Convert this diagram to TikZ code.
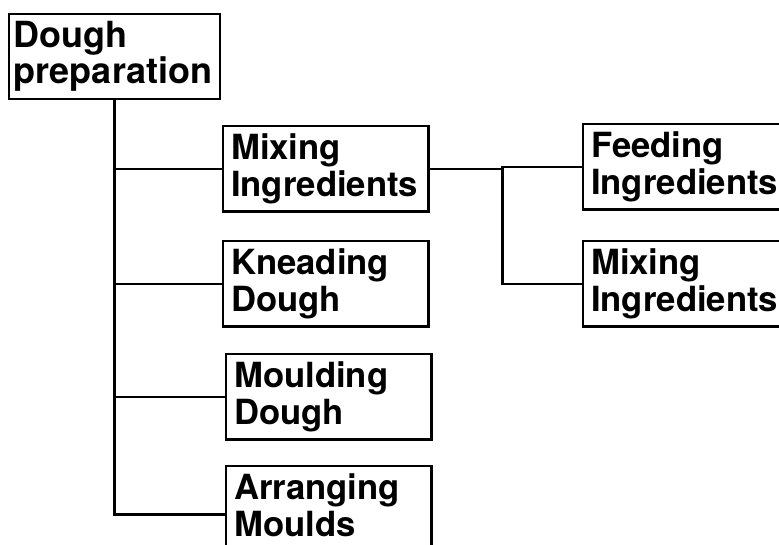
\documentclass[tikz,border=0pt]{standalone}
\usepackage{fontspec}
\setmainfont{TeX Gyre Heros}
\usepackage{tikz}
\tikzset{
    taskbox/.style={draw, line width=1.7pt, anchor=north west, align=left,
        text width=142pt, inner xsep=6pt, inner ysep=5.5pt,
        font=\fontsize{26}{28}\selectfont\bfseries},
    rootbox/.style={taskbox, text width=151pt, inner xsep=3.5pt,
        font=\fontsize{27}{27}\selectfont\bfseries},
    link/.style={line width=1.7pt}
}

\begin{document}
\begin{tikzpicture}[x=0.75pt, y=-0.75pt]
        \useasboundingbox (0,0) rectangle (779,545);
        \node[rootbox] (prep) at (8,13) {Dough\\preparation};
        \node[taskbox] (mix) at (222,125) {Mixing\\Ingredients};
        \node[taskbox] (knead) at (222,240) {Kneading\\Dough};
        \node[taskbox] (mould) at (225,353) {Moulding\\Dough};
        \node[taskbox] (arrange) at (225,465) {Arranging\\Moulds\rule[-14pt]{0pt}{0pt}};
        \node[taskbox] (feed) at (582,123) {Feeding\\Ingredients};
        \node[taskbox] (mixtwo) at (582,240) {Mixing\\Ingredients};
        \foreach \child in {mix,knead,mould,arrange}{
            \draw[link] (prep.south) |- (\child.west);
        }
        \coordinate (fork) at ([xshift=73*0.75pt]mix.east);
        \draw[link] (mix.east) -- (fork);
        \foreach \child in {feed,mixtwo}{
            \draw[link] (fork) |- (\child.west);
        }
    \end{tikzpicture}
\end{document}
